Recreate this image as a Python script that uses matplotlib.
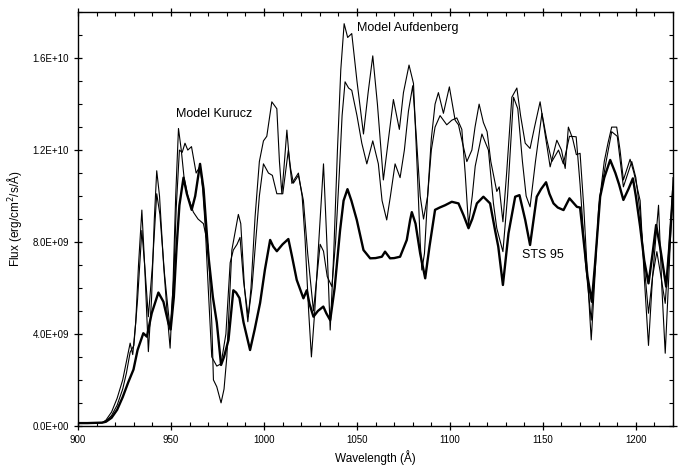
import matplotlib
matplotlib.use('Agg')
import matplotlib.pyplot as plt
import numpy as np
from matplotlib.ticker import MultipleLocator, FormatStrFormatter

plt.rcParams['font.family'] = ['Liberation Sans', 'DejaVu Sans']

# observed spectrum, STS 95 (wavelength in A, flux in 1e9 erg/cm2/s/A)
wl_sts = [900, 905, 910, 913, 915, 918, 921, 924, 927, 929.8, 932, 935.1, 937, 939.6, 943.2,
          945.9, 948.6, 949.8, 951.5, 953, 954.5, 956.7, 958.5, 961.1, 963, 965.6, 967.5,
          970.1, 972.5, 974.6, 976.9, 978.5, 980.9, 983.5, 985, 986.8, 989, 992.5, 995,
          997.9, 1000.5, 1003.3, 1005, 1006.9, 1010, 1013.1, 1015, 1017.6, 1021.2, 1023,
          1024.5, 1026.6, 1029, 1031.9, 1033.5, 1035.6, 1038, 1040.9, 1042.8, 1044.9, 1047,
          1049.9, 1053.5, 1057.1, 1060, 1063.4, 1065.1, 1067.8, 1070, 1073.2, 1076.8, 1078.6,
          1079.5, 1081.5, 1084, 1086.7, 1089, 1092, 1094.5, 1097.4, 1101, 1104.6, 1107.3,
          1110, 1112, 1114.5, 1118, 1121.6, 1124.3, 1126, 1128.5, 1131.5, 1135.1, 1137.4,
          1140.5, 1143.1, 1146.7, 1149, 1151.7, 1153.5, 1155.7, 1158, 1161.1, 1164.3, 1168.3,
          1170, 1172, 1174, 1176.3, 1178, 1180.8, 1183, 1186.2, 1189, 1191, 1193.3, 1196,
          1198.4, 1200, 1202.3, 1204.5, 1206.8, 1209, 1210.9, 1213, 1216.3, 1218, 1220]
flux_sts = [0.12, 0.12, 0.13, 0.14, 0.18, 0.35, 0.7, 1.25, 1.9, 2.45, 3.3, 4.03, 3.88, 4.9, 5.8,
            5.4, 4.46, 4.2, 5.6, 7.8, 9.6, 10.8, 10.1, 9.4, 10.0, 11.4, 10.3,
            7.4, 5.6, 4.5, 2.65, 3.0, 3.74, 5.9, 5.8, 5.56, 4.5, 3.3, 4.2,
            5.35, 6.8, 8.09, 7.8, 7.6, 7.9, 8.13, 7.4, 6.35, 5.55, 5.9,
            5.3, 4.75, 5.0, 5.19, 4.9, 4.6, 6.0, 8.5, 9.8, 10.3, 9.8,
            8.96, 7.65, 7.29, 7.3, 7.36, 7.58, 7.29, 7.3, 7.36, 8.09, 8.96,
            9.3, 8.8, 7.5, 6.42, 7.8, 9.4, 9.5, 9.6, 9.75, 9.68, 9.17,
            8.6, 9.0, 9.68, 9.97, 9.68, 8.5, 7.8, 6.13, 8.38, 9.97, 10.04,
            8.96, 7.87, 9.97, 10.3, 10.6, 10.1, 9.68, 9.5, 9.39, 9.9, 9.53,
            9.5, 8.0, 6.5, 5.4, 7.0, 9.97, 10.8, 11.57, 11.0, 10.5, 9.83, 10.3,
            10.77, 10.0, 8.67, 7.2, 6.2, 7.5, 8.74, 7.8, 6.06, 7.8, 10.2]

# model atmosphere, Aufdenberg
wl_aufdenberg = [900, 913, 915, 918, 921, 924, 926, 928, 929.4, 931, 932.5, 934.3, 935.8, 937.8,
                 939.5, 941, 942.3, 943.8, 946, 948, 949.5, 951, 952.5, 954, 955.5, 957, 959,
                 962, 964.5, 967.4, 970, 971.9, 972.8, 974.6, 976.9, 978.5, 980, 982.7, 986.2,
                 987.5, 989.5, 991.3, 993, 995.2, 997.5, 999.7, 1001.5, 1004.2, 1006.9, 1008.3,
                 1009.6, 1011, 1012.3, 1013.7, 1015, 1018.5, 1020.5, 1022.1, 1024, 1025.5,
                 1027.3, 1029.3, 1032, 1033.8, 1035.6, 1037.5, 1039.5, 1041.3, 1043.1, 1045,
                 1047.2, 1050, 1053.5, 1056, 1058.5, 1061, 1064.2, 1067, 1069.6, 1072.8, 1075,
                 1078, 1080.4, 1082.5, 1084, 1084.9, 1086.3, 1088, 1090, 1092, 1093.8, 1096.5,
                 1099.7, 1102.8, 1104.6, 1106.8, 1109.1, 1111.8, 1113.5, 1115.7, 1118, 1120,
                 1122, 1125.2, 1126.5, 1128.5, 1130.5, 1133.3, 1136, 1138, 1140.5, 1143.1,
                 1145.5, 1148.5, 1151, 1153.9, 1157.5, 1160, 1162, 1163.7, 1166, 1168, 1170,
                 1172, 1174, 1176, 1178, 1180, 1183, 1185, 1187, 1189.7, 1191.5, 1193.3, 1196.9,
                 1199, 1202.3, 1204.5, 1206.8, 1209, 1212.2, 1214, 1215.8, 1218, 1220]
flux_aufdenberg = [0.12, 0.14, 0.25, 0.6, 1.2, 2.0, 2.8, 3.6, 3.1, 4.5, 7.0, 9.39, 7.0, 3.23,
                   5.5, 9.0, 11.1, 10.0, 7.0, 4.8, 3.38, 6.0, 10.0, 12.94, 12.0, 10.8, 10.0,
                   9.3, 9.0, 8.8, 7.8, 4.5, 2.0, 1.7, 1.0, 1.6, 3.0, 7.65, 9.2,
                   8.8, 6.0, 4.53, 6.0, 9.1, 11.5, 12.4, 12.6, 14.1, 13.8, 11.5,
                   10.1, 11.5, 12.87, 11.5, 10.55, 11.0, 10.0, 8.1, 5.0, 3.0,
                   5.0, 7.8, 11.4, 8.0, 4.17, 7.5, 12.0, 15.5, 17.5, 16.9,
                   17.07, 15.0, 12.7, 14.5, 16.1, 14.0, 10.7, 12.5, 14.2, 12.9, 14.5,
                   15.7, 14.9, 11.0, 8.0, 6.78, 7.5, 10.0, 12.5, 14.0, 14.5, 13.6,
                   14.75, 13.3, 13.1, 12.3, 11.5, 12.0, 13.0, 14.0, 13.2, 12.8,
                   11.5, 10.2, 10.4, 8.88, 11.0, 14.3, 14.7, 13.5, 12.3, 12.07,
                   13.0, 14.1, 12.8, 11.27, 12.43, 12.0, 11.2, 13.0, 12.5, 11.8, 11.86,
                   9.5, 6.5, 3.74, 6.5, 9.5, 11.5, 12.3, 13.0, 13.0, 12.0, 10.7, 11.6,
                   11.0, 9.8, 6.5, 3.5, 6.5, 9.6, 6.0, 3.16, 7.0, 10.8]

# model atmosphere, Kurucz
wl_kurucz = [900, 913, 915, 918, 921, 924, 926, 928, 930, 932, 934.3, 936, 937.8, 940, 942.3,
             944, 946.5, 949.5, 951.5, 952.8, 954.5, 956, 957.5, 959, 961, 963.5, 965.6, 967,
             968.3, 970, 971.9, 974.6, 976.9, 979.5, 981.8, 983.5, 985.5, 987.1, 989, 991.5,
             993.5, 995.5, 997.5, 999.7, 1002.4, 1004.5, 1006.9, 1010.1, 1011.5, 1013.1,
             1014.3, 1015.8, 1018.5, 1021.2, 1023.5, 1026.6, 1030.2, 1032, 1034, 1036.5,
             1038.5, 1040.5, 1042, 1043.6, 1045.5, 1047.2, 1050, 1052.6, 1055.3, 1058.5,
             1061.5, 1063.5, 1066, 1068, 1070.5, 1073.2, 1075.5, 1077.7, 1080, 1082, 1084,
             1085.8, 1088, 1090, 1092, 1094.7, 1098.3, 1101, 1103.7, 1106.4, 1108.2, 1110,
             1112, 1113.6, 1117.2, 1120.7, 1123.4, 1125.2, 1128.5, 1131, 1134.2, 1136.5, 1139,
             1141, 1143.1, 1146, 1149.5, 1152, 1154.8, 1158.4, 1161, 1164.3, 1167.9, 1170,
             1173, 1176, 1178, 1180.8, 1184, 1187, 1190, 1193.3, 1197.8, 1200, 1202.3, 1204.5,
             1206.8, 1209, 1211.3, 1213.5, 1215.8, 1218, 1220]
flux_kurucz = [0.12, 0.14, 0.2, 0.45, 0.9, 1.6, 2.3, 3.2, 3.5, 5.5, 8.5, 6.8, 4.75, 7.0, 10.1,
               9.2, 6.6, 4.17, 6.5, 9.5, 12.0, 11.9, 12.3, 12.0, 12.15, 11.0, 11.3, 10.3,
               8.8, 6.0, 3.0, 2.6, 2.7, 4.0, 7.1, 7.65, 7.9, 8.2, 6.3, 4.75,
               6.0, 8.0, 10.0, 11.4, 11.0, 10.9, 10.1, 10.1, 11.0, 12.0,
               11.2, 10.56, 10.9, 9.8, 7.5, 5.0, 7.9, 7.6, 6.5, 6.06,
               8.0, 11.0, 13.5, 14.97, 14.7, 14.6, 13.5, 12.3, 11.4, 12.4,
               11.4, 9.8, 8.96, 10.0, 11.4, 10.8, 12.0, 13.7, 14.8, 12.5, 10.0,
               9.0, 10.0, 12.0, 13.0, 13.5, 13.1, 13.3, 13.4, 12.9, 11.0, 8.74,
               10.0, 11.3, 12.7, 12.0, 9.68, 8.6, 7.58, 10.0, 14.3, 13.8, 11.5,
               10.0, 9.53, 11.5, 13.6, 12.5, 11.5, 12.0, 11.4, 12.6, 12.58, 10.5,
               7.0, 4.6, 7.0, 10.0, 11.5, 12.8, 12.6, 10.4, 11.5, 10.8, 9.26, 7.0,
               4.9, 6.5, 7.58, 6.5, 5.33, 8.0, 10.4]

fig = plt.figure(figsize=(6.91, 4.69), dpi=100)
ax = fig.add_axes([0.113, 0.092, 0.861, 0.882])

ax.plot(wl_kurucz, np.array(flux_kurucz) * 1e9, color='black', lw=0.8)
ax.plot(wl_aufdenberg, np.array(flux_aufdenberg) * 1e9, color='black', lw=0.8)
ax.plot(wl_sts, np.array(flux_sts) * 1e9, color='black', lw=1.7)

ax.text(952.7, 13.57e9, 'Model Kurucz', fontsize=9, va='center', ha='left')
ax.text(1050.1, 17.3e9, 'Model Aufdenberg', fontsize=9, va='center', ha='left')
ax.text(1138.8, 7.43e9, 'STS 95', fontsize=9, va='center', ha='left')

ax.set_xlim(900, 1220)
ax.set_ylim(0, 1.8e10)
ax.xaxis.set_major_locator(MultipleLocator(50))
ax.xaxis.set_minor_locator(MultipleLocator(10))
ax.yaxis.set_major_locator(MultipleLocator(4e9))
ax.yaxis.set_minor_locator(MultipleLocator(1e9))
ax.yaxis.set_major_formatter(FormatStrFormatter('%.1E'))
ax.tick_params(which='major', direction='inout', length=6, width=0.9, labelsize=7,
               top=True, right=True)
ax.tick_params(which='minor', direction='in', length=3, width=0.8, top=True, right=True)
for s in ax.spines.values():
    s.set_linewidth(1.0)

ax.set_xlabel('Wavelength (\u00c5)', fontsize=8.5, labelpad=4)
ax.set_ylabel('Flux (erg/cm$^2$/s/\u00c5)', fontsize=8.5, labelpad=6)

fig.savefig('out.png', dpi=100)
